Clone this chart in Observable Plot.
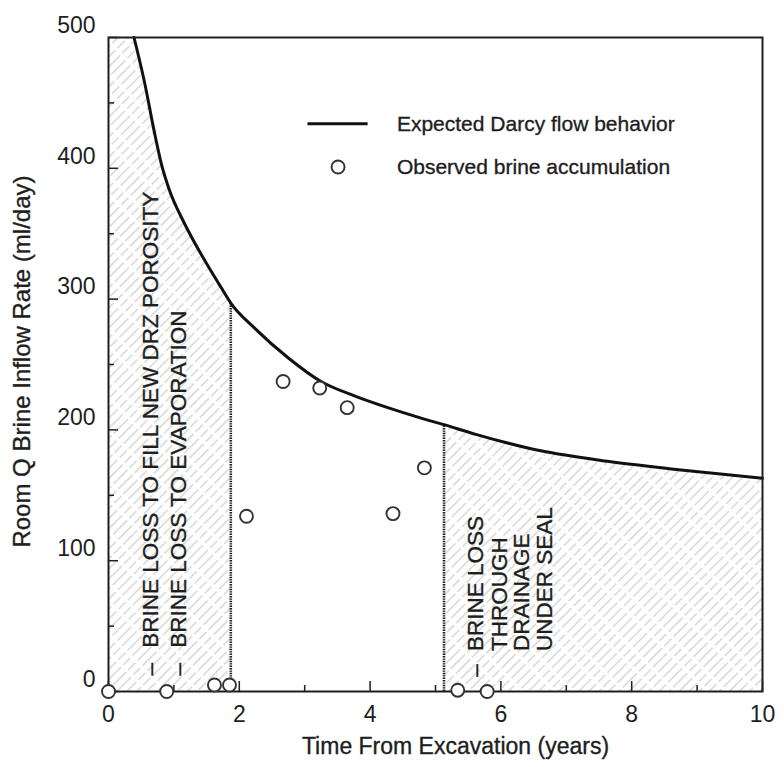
<!DOCTYPE html>
<html><head><meta charset="utf-8">
<script src="https://cdn.jsdelivr.net/npm/d3@7"></script>
<script src="https://cdn.jsdelivr.net/npm/@observablehq/plot@0.6"></script>
<style>
body{margin:0;background:#fff;}
#chart{width:784px;height:767px;}
</style>
</head><body><div id="chart"></div>
<script>
// ---- data ----
const curveT = [0.39, 0.55, 0.70, 0.81, 0.92, 1.16, 1.42, 1.72, 1.87, 2.23, 2.75, 3.25, 3.76, 4.27, 4.78, 5.13, 5.59, 6.61, 7.63, 8.64, 10];
const curveQ = [500, 466, 428, 403, 385, 358, 334, 309, 297, 278, 255, 237, 226, 217, 209, 204, 197, 184, 176, 170, 163];
const obsT = [0, 0.89, 1.62, 1.85, 2.11, 2.67, 3.23, 3.65, 4.35, 4.83, 5.34, 5.79];
const obsQ = [0, 0, 5, 5, 134, 237, 232, 217, 136, 171, 1, 0];
const xMajor = [0, 2, 4, 6, 8, 10];
const xMinor = [1, 3, 5, 7, 9];
const yMajor = [0, 100, 200, 300, 400, 500];
const yMinor = [50, 150, 250, 350, 450];
const regionLeft = [0, 1.87];
const regionRight = [5.13, 10];
const xTitle = "Time From Excavation (years)";
const yTitle = "Room Q Brine Inflow Rate (ml/day)";
const legendLabels = ["Expected Darcy flow behavior", "Observed brine accumulation"];
const legendLineT = [3.05, 3.97];
const legendDotT = 3.51;
const legendTextT = 4.41;
const legendQ = [434, 401];
const notes = [
  {text: "BRINE LOSS TO FILL NEW DRZ POROSITY", t: 0.64, q: 33.5},
  {text: "BRINE LOSS TO EVAPORATION", t: 1.07, q: 33.5},
  {text: "BRINE LOSS", t: 5.62, q: 31},
  {text: "THROUGH", t: 5.98, q: 31},
  {text: "DRAINAGE", t: 6.32, q: 31},
  {text: "UNDER SEAL", t: 6.67, q: 31}
];
const dashes = [
  {t: 0.64, q: 17},
  {t: 1.07, q: 17},
  {t: 5.62, q: 16}
];

// ---- derived tables ----
const curve = curveT.map((t, i) => ({t, q: curveQ[i]}));
const obs = obsT.map((t, i) => ({t, q: obsQ[i]}));
const yMax = yMajor[yMajor.length - 1];
const leftArea = [{t: regionLeft[0], q: yMax}, ...curve.filter(d => d.t <= regionLeft[1])];
const rightArea = curve.filter(d => d.t >= regionRight[0] && d.t <= regionRight[1]);
const bounds = [regionLeft[1], regionRight[0]].map(t => ({t, q: curve.find(d => d.t === t).q}));

const W = 784, H = 767;
const mT = 37, mR = 22, mB = 76, mL = 108;
const innerW = W - mL - mR, innerH = H - mT - mB;
const font = "'Liberation Sans', Arial, Helvetica, sans-serif";
const ink = "#1e1e1e";
const halo = {stroke: ink, strokeWidth: 0.35};

const svg = Plot.plot({
  width: W, height: H,
  marginTop: mT, marginRight: mR, marginBottom: mB, marginLeft: mL,
  style: {fontFamily: font, color: ink, background: "#fff"},
  x: {domain: [0, 10]},
  y: {domain: [0, 500]},
  marks: [
    Plot.areaY(leftArea, {x: "t", y: "q", fill: "url(#hatch)", curve: "monotone-x"}),
    Plot.areaY(rightArea, {x: "t", y: "q", fill: "url(#hatch)", curve: "monotone-x"}),
    Plot.ruleX(bounds, {x: "t", y1: 0, y2: "q", stroke: ink, strokeWidth: 2.6, strokeDasharray: "1.4,1"}),
    Plot.line(curve, {x: "t", y: "q", stroke: "#111", strokeWidth: 3, curve: "monotone-x"}),
    Plot.tickX(xMajor, {x: d => d, insetTop: innerH - 10, stroke: ink, strokeWidth: 1.5}),
    Plot.tickX(xMinor, {x: d => d, insetTop: innerH - 6, stroke: ink, strokeWidth: 1.5}),
    Plot.tickY(yMajor, {y: d => d, insetRight: innerW - 10, stroke: ink, strokeWidth: 1.5}),
    Plot.tickY(yMinor, {y: d => d, insetRight: innerW - 6, stroke: ink, strokeWidth: 1.5}),
    Plot.axisX({ticks: xMajor, tickSize: 0, tickPadding: 14, fontSize: 23, label: null, fill: ink, ...halo}),
    Plot.axisY({ticks: yMajor, tickSize: 0, tickPadding: 13, dy: -12, fontSize: 23, label: null, fill: ink, ...halo}),
    Plot.frame({stroke: ink, strokeWidth: 2}),
    Plot.dot(obs, {x: "t", y: "q", r: 6.5, stroke: "#333", strokeWidth: 1.9, fill: "white"}),
    Plot.text(notes, {x: "t", y: "q", text: "text", rotate: -90, textAnchor: "start", fontSize: 22.5, fill: ink, ...halo}),
    Plot.text(dashes, {x: "t", y: "q", text: () => "–", rotate: -90, fontSize: 22.5, fill: ink, ...halo}),
    // legend
    Plot.ruleY([legendQ[0]], {y: d => d, x1: legendLineT[0], x2: legendLineT[1], stroke: "#111", strokeWidth: 3}),
    Plot.dot([legendQ[1]], {x: () => legendDotT, y: d => d, r: 6.5, stroke: "#333", strokeWidth: 1.9, fill: "white"}),
    Plot.text(legendLabels, {x: () => legendTextT, y: (d, i) => legendQ[i], text: d => d, textAnchor: "start", fontSize: 21, fill: ink, ...halo}),
    // axis titles
    Plot.text([xTitle], {frameAnchor: "bottom", dx: 20, dy: 62, text: d => d, textAnchor: "middle", fontSize: 23, fill: ink, ...halo}),
    Plot.text([yTitle], {frameAnchor: "left", dx: -86, dy: -3, rotate: -90, text: d => d, textAnchor: "middle", fontSize: 24, fill: ink, ...halo})
  ]
});

d3.select(svg).insert("defs", ":first-child").html(
  `<pattern id="hatch" patternUnits="userSpaceOnUse" width="7.1" height="36" patternTransform="rotate(45)">
     <line x1="3.5" y1="0" x2="3.5" y2="36" stroke="#bcbcbc" stroke-width="0.9" stroke-dasharray="10 3"/>
   </pattern>`
);

document.getElementById("chart").appendChild(svg);
</script>
</body></html>
